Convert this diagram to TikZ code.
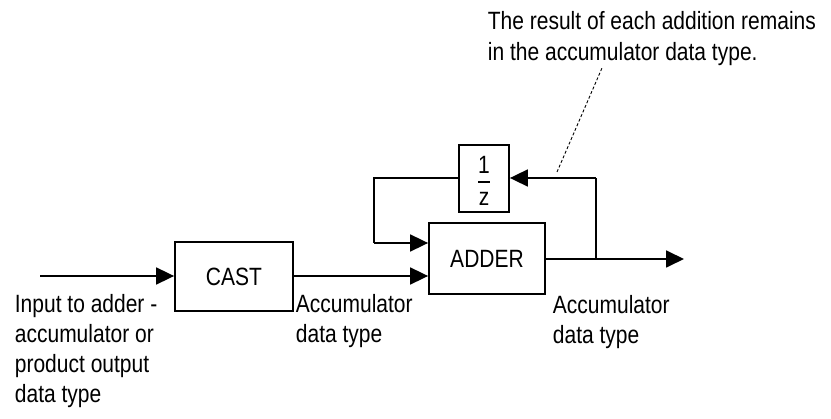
\documentclass[tikz,border=0pt]{standalone}
\usepackage{fontspec}
\setmainfont[FakeStretch=0.84]{Liberation Sans}
\usetikzlibrary{arrows.meta}
\begin{document}
\begin{tikzpicture}[x=1pt,y=-1pt,
  line width=1.8pt,
  blk/.style={draw,line width=1.8pt,inner sep=0pt},
  sig/.style={line width=1.8pt,-{Triangle[length=18pt,width=17pt]}},
  lbl/.style={font=\fontsize{25}{29}\selectfont,anchor=base west,inner sep=0pt},
  btxt/.style={font=\fontsize{25}{29}\selectfont}]
\useasboundingbox (0,0) rectangle (831,419);
% blocks
\node[blk,minimum width=118pt,minimum height=69pt] (cast) at (234,276.5) {};
\node[btxt] at (cast.center) {CAST};
\node[blk,minimum width=116pt,minimum height=71pt] (adder) at (487,258.5) {};
\node[btxt] at (adder.center) {ADDER};
\node[blk,minimum width=50pt,minimum height=67pt] (delay) at (484,178.5) {};
\node[btxt,anchor=base] (one) at (484,174) {1};
\node[btxt,anchor=base] (zz) at (484,206) {z};
\draw[line width=1.4pt] (478,182) -- (490,182);
% coordinates
\coordinate (in) at (40,276);
\coordinate (fbl) at (374,178);
\coordinate (fbd) at (374,243);
\coordinate (out) at (684,259);
\coordinate (br) at (596,259);
\coordinate (brt) at (596,178);
\coordinate (leadA) at (557,172);
\coordinate (leadB) at (602,68);
% connectors
\draw[sig] (in) -- (cast.west |- in);
\draw[sig] (cast.east |- in) -- (adder.west |- in);
\draw[line width=1.8pt] (delay.west |- fbl) -- (fbl) -- (fbd);
\draw[sig] (fbd) -- (adder.west |- fbd);
\draw[sig] (adder.east |- out) -- (out);
\draw[line width=1.8pt] (br) -- (brt);
\draw[sig] (brt) -- (delay.east |- brt);
\draw[line width=0.9pt,dash pattern=on 3pt off 2pt] (leadA) -- (leadB);
% labels
\node[lbl] (t1) at (487,30) {The result of each addition remains};
\node[lbl] (t2) at (487,61) {in the accumulator data type.};
\node[lbl] (l1) at (14,313) {Input to adder -};
\node[lbl] (l2) at (14,343) {accumulator or};
\node[lbl] (l3) at (14,373) {product output};
\node[lbl] (l4) at (14,403) {data type};
\node[lbl] (m1) at (295,313) {Accumulator};
\node[lbl] (m2) at (295,343) {data type};
\node[lbl] (r1) at (552,314) {Accumulator};
\node[lbl] (r2) at (552,344) {data type};
\end{tikzpicture}
\end{document}
